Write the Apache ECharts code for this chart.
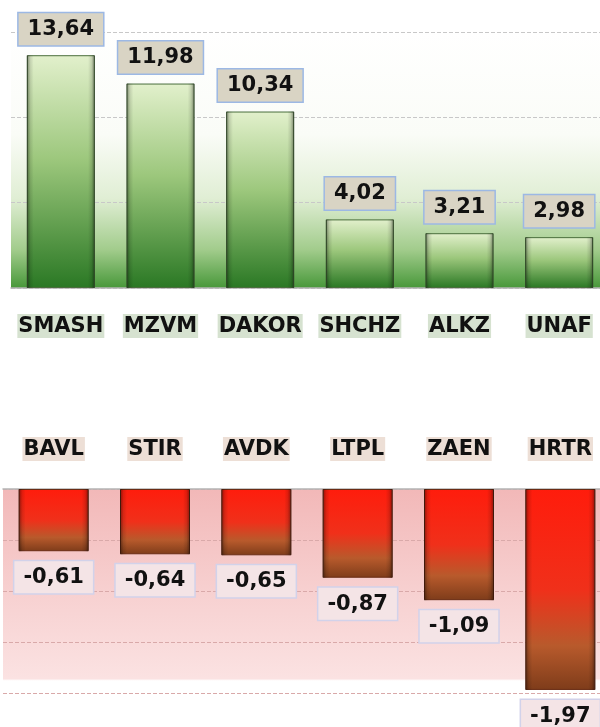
<!DOCTYPE html>
<html>
<head>
<meta charset="utf-8">
<script src="https://cdn.jsdelivr.net/npm/echarts@6/dist/echarts.min.js"></script>
<style>
  html, body { margin: 0; padding: 0; background: #fff; }
  #chart { width: 600px; height: 727px; }
</style>
</head>
<body>
<div id="chart"></div>
<script>
// top: gainers, bottom: losers
var gainNames = ['SMASH', 'MZVM', 'DAKOR', 'SHCHZ', 'ALKZ', 'UNAF'];
var gainValues = [13.64, 11.98, 10.34, 4.02, 3.21, 2.98];
var lossNames = ['BAVL', 'STIR', 'AVDK', 'LTPL', 'ZAEN', 'HRTR'];
var lossValues = [-0.61, -0.64, -0.65, -0.87, -1.09, -1.97];

var FONT = '"DejaVu Sans", Verdana, sans-serif';

function comma(p) {
    return p.value.toFixed(2).replace('.', ',');
}

function lin(x, y, x2, y2, stops) {
    return new echarts.graphic.LinearGradient(x, y, x2, y2, stops);
}

// dark side edges on top of each bar
var bevel = lin(0, 0, 1, 0, [
    { offset: 0, color: 'rgba(0,0,0,0.45)' },
    { offset: 0.05, color: 'rgba(0,0,0,0.12)' },
    { offset: 0.1, color: 'rgba(0,0,0,0)' },
    { offset: 0.9, color: 'rgba(0,0,0,0)' },
    { offset: 0.95, color: 'rgba(0,0,0,0.12)' },
    { offset: 1, color: 'rgba(0,0,0,0.45)' }
]);

var myChart = echarts.init(document.getElementById('chart'));

var option = {
    animation: false,
    grid: [
        {
            left: 11, top: 32, width: 598, height: 256,
            outerBoundsMode: 'none', containLabel: false,
            show: true, borderWidth: 0,
            backgroundColor: lin(0, 0, 0, 1, [
                { offset: 0, color: '#ffffff' },
                { offset: 0.4, color: '#fafcf7' },
                { offset: 0.65, color: '#e0eed4' },
                { offset: 0.85, color: '#a2cc8c' },
                { offset: 1, color: '#48983a' }
            ])
        },
        {
            left: 3, top: 489, width: 608, height: 204,
            outerBoundsMode: 'none', containLabel: false,
            show: true, borderWidth: 0,
            backgroundColor: lin(0, 0, 0, 1, [
                { offset: 0, color: '#f2b8b8' },
                { offset: 0.5, color: '#f7d0d0' },
                { offset: 0.93, color: '#fbe2e2' },
                { offset: 0.94, color: '#ffffff' },
                { offset: 1, color: '#ffffff' }
            ])
        }
    ],
    xAxis: [
        {
            gridIndex: 0, type: 'category', data: gainNames, position: 'bottom',
            axisLine: { lineStyle: { color: '#b4b4b4', width: 1.5 } },
            axisTick: { length: 6, lineStyle: { color: '#a0a0a0' } },
            axisLabel: {
                interval: 0, margin: 26, fontFamily: FONT, fontWeight: 'bold', fontSize: 21,
                color: '#111', backgroundColor: '#d6e2d0', padding: [2, 1, 1, 1]
            }
        },
        {
            gridIndex: 1, type: 'category', data: lossNames, position: 'top',
            axisLine: { lineStyle: { color: '#b4b4b4', width: 1.5 } },
            axisTick: { length: 6, lineStyle: { color: '#a0a0a0' } },
            axisLabel: {
                interval: 0, margin: 28, fontFamily: FONT, fontWeight: 'bold', fontSize: 21,
                color: '#111', backgroundColor: '#eddfd6', padding: [2, 1, 1, 1]
            }
        }
    ],
    yAxis: [
        {
            gridIndex: 0, type: 'value', min: 0, max: 15, interval: 5,
            axisLabel: { show: false }, axisLine: { show: false }, axisTick: { show: false },
            splitLine: { lineStyle: { color: '#c8c8c8', type: 'dashed' } }
        },
        {
            gridIndex: 1, type: 'value', min: -2, max: 0, interval: 0.5,
            axisLabel: { show: false }, axisLine: { show: false }, axisTick: { show: false },
            splitLine: { lineStyle: { color: '#d9a9a9', type: 'dashed' } }
        }
    ],
    series: [
        {
            type: 'bar', xAxisIndex: 0, yAxisIndex: 0, data: gainValues, barWidth: 68,
            itemStyle: {
                color: lin(0, 0, 0, 1, [
                    { offset: 0, color: '#e2f0cc' },
                    { offset: 0.45, color: '#9cc77c' },
                    { offset: 1, color: '#2a7824' }
                ]),
                borderColor: '#4a6e3c', borderWidth: 1
            },
            label: {
                show: true, position: 'top', distance: 10, formatter: comma,
                fontFamily: FONT, fontWeight: 'bold', fontSize: 21, color: '#111',
                backgroundColor: '#d9d4c4', borderColor: '#9cb8e4', borderWidth: 1.5,
                padding: [6, 9, 5, 9]
            },
            z: 2
        },
        {
            type: 'bar', xAxisIndex: 0, yAxisIndex: 0, data: gainValues, barWidth: 68,
            barGap: '-100%', silent: true,
            itemStyle: { color: bevel }, z: 3
        },
        {
            type: 'bar', xAxisIndex: 1, yAxisIndex: 1, data: lossValues, barWidth: 70,
            itemStyle: {
                color: lin(0, 0, 0, 1, [
                    { offset: 0, color: '#ff1c0c' },
                    { offset: 0.5, color: '#f0301a' },
                    { offset: 0.78, color: '#b85a2c' },
                    { offset: 1, color: '#7e3c1a' }
                ]),
                borderColor: '#6a2c14', borderWidth: 1
            },
            label: {
                show: true, position: 'bottom', distance: 10, formatter: comma,
                fontFamily: FONT, fontWeight: 'bold', fontSize: 21, color: '#111',
                backgroundColor: '#f4e4e6', borderColor: '#d2d2ea', borderWidth: 1.5,
                padding: [6, 9, 5, 9]
            },
            z: 2
        },
        {
            type: 'bar', xAxisIndex: 1, yAxisIndex: 1, data: lossValues, barWidth: 70,
            barGap: '-100%', silent: true,
            itemStyle: { color: bevel }, z: 3
        }
    ]
};

myChart.setOption(option);
</script>
</body>
</html>
